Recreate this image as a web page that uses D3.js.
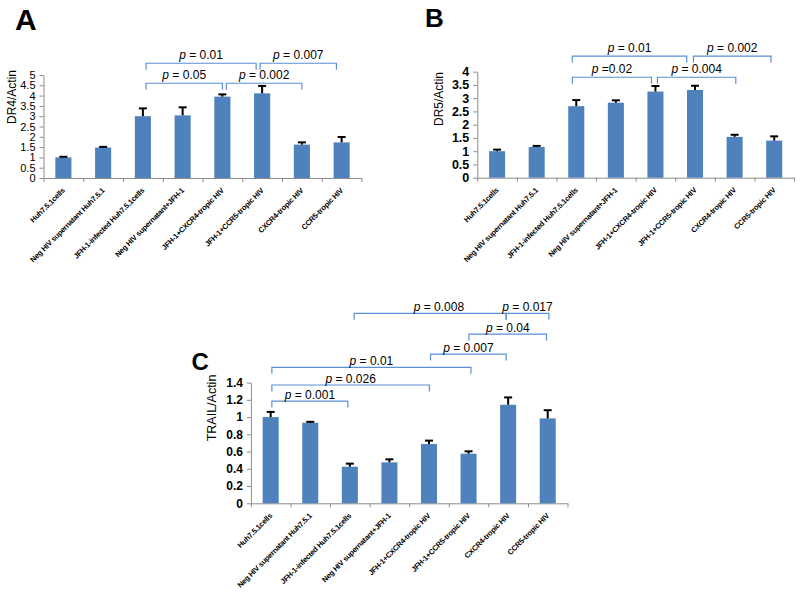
<!DOCTYPE html>
<html><head><meta charset="utf-8">
<script src="https://cdn.jsdelivr.net/npm/d3@7/dist/d3.min.js"></script>
<style>body{margin:0;background:#fff}svg{display:block;font-family:"Liberation Sans",Arial,sans-serif}</style>
</head><body><svg id="chart" width="800" height="594"></svg>
<script>
// ---------- data ----------
const categories = ["Huh7.5.1cells","Neg HIV supernatant Huh7.5.1","JFH-1-infected Huh7.5.1cells","Neg HIV supernatant+JFH-1","JFH-1+CXCR4-tropic HIV","JFH-1+CCR5-tropic HIV","CXCR4-tropic HIV","CCR5-tropic HIV"];

const dr4Values = [1.0, 1.48, 3.0, 3.04, 3.95, 4.11, 1.62, 1.73];
const dr4Errors = [0.03, 0.03, 0.38, 0.39, 0.11, 0.36, 0.11, 0.26];
const dr4Ticks = [0, 0.5, 1, 1.5, 2, 2.5, 3, 3.5, 4, 4.5, 5];
const dr4TickLabels = ["0","0.5","1","1.5","2","2.5","3","3.5","4","4.5","5"];
const dr4Brackets = [
  {from: 2.08, to: 4.85, level: 5.57, p: " = 0.01"},
  {from: 4.95, to: 6.87, level: 5.57, p: " = 0.007"},
  {from: 2.08, to: 4.0,  level: 4.6,  p: " = 0.05"},
  {from: 4.1,  to: 6.0,  level: 4.6,  p: " = 0.002"}
];

const dr5Values = [1.0, 1.16, 2.7, 2.83, 3.25, 3.31, 1.54, 1.4];
const dr5Errors = [0.06, 0.04, 0.23, 0.09, 0.21, 0.16, 0.08, 0.16];
const dr5Ticks = [0, 0.5, 1, 1.5, 2, 2.5, 3, 3.5, 4];
const dr5TickLabels = ["0","0.5","1","1.5","2","2.5","3","3.5","4"];
const dr5Brackets = [
  {from: 1.9,  to: 4.79, level: 4.59, p: " = 0.01"},
  {from: 4.96, to: 6.92, level: 4.59, p: " = 0.002"},
  {from: 1.9,  to: 3.9,  level: 3.79, p: " =0.02"},
  {from: 4.05, to: 6.03, level: 3.79, p: " = 0.004"}
];

const trailValues = [1.0, 0.935, 0.424, 0.475, 0.687, 0.575, 1.143, 0.985];
const trailErrors = [0.06, 0.01, 0.036, 0.035, 0.04, 0.028, 0.085, 0.095];
const trailTicks = [0, 0.2, 0.4, 0.6, 0.8, 1, 1.2, 1.4];
const trailTickLabels = ["0","0.2","0.4","0.6","0.8","1","1.2","1.4"];
const trailBrackets = [
  {from: 0.03, to: 1.95, level: 1.186, p: " = 0.001"},
  {from: 0.03, to: 4.01, level: 1.372, p: " = 0.026"},
  {from: 0.03, to: 5.06, level: 1.577, p: " = 0.01"},
  {from: 4.04, to: 5.95, level: 1.731, p: " = 0.007"},
  {from: 5.01, to: 6.97, level: 1.963, p: " = 0.04"},
  {from: 2.11, to: 5.95, level: 2.203, p: " = 0.008", labelAt: 4.25},
  {from: 5.95, to: 7.03, level: 2.203, p: " = 0.017"}
];

// ---------- drawing ----------
const svg = d3.select("#chart");
svg.append("rect").attr("width", 800).attr("height", 594).attr("fill", "#fff");

const BAR = "#4F81BD", AXIS = "#8c8c8c", BRACKET = "#5b8fd6";

function panel(o) {
  const g = svg.append("g");
  const x = d3.scaleBand().domain(categories).range([o.x0, o.x1]).paddingInner(0.595).paddingOuter(0.2975);
  const xi = d3.scaleLinear().domain([-0.5, categories.length - 0.5]).range([o.x0, o.x1]);
  const y = d3.scaleLinear().domain([0, o.max]).range([o.y0, o.yTop]);
  const bw = x.bandwidth();

  // y axis
  const ya = g.append("g").attr("transform", `translate(${o.x0},0)`)
    .call(d3.axisLeft(y).tickValues(o.ticks).tickFormat((d, i) => o.tickLabels[i]).tickSize(4).tickSizeOuter(0).tickPadding(4));
  ya.select(".domain").attr("stroke", AXIS);
  ya.selectAll(".tick line").attr("stroke", AXIS);
  ya.selectAll(".tick text").attr("fill", "#000").attr("font-size", o.tickFont)
    .attr("font-weight", o.tickBold ? "bold" : "normal").attr("font-family", '"Liberation Sans",Arial,sans-serif');

  // x axis
  const xa = g.append("g").attr("transform", `translate(0,${o.y0})`)
    .call(d3.axisBottom(xi).tickValues(d3.range(-0.5, categories.length, 1)).tickFormat("").tickSize(4).tickSizeOuter(0));
  xa.select(".domain").attr("stroke", AXIS);
  xa.selectAll(".tick line").attr("stroke", AXIS);

  // bars
  g.selectAll("rect.bar").data(o.values).join("rect").attr("class", "bar")
    .attr("x", (d, i) => x(categories[i])).attr("y", d => y(d))
    .attr("width", bw).attr("height", d => o.y0 - y(d)).attr("fill", BAR);

  // error bars
  const eb = g.selectAll("g.err").data(o.values).join("g").attr("class", "err");
  eb.append("line")
    .attr("x1", (d, i) => x(categories[i]) + bw / 2).attr("x2", (d, i) => x(categories[i]) + bw / 2)
    .attr("y1", d => y(d)).attr("y2", (d, i) => y(d + o.errors[i]))
    .attr("stroke", "#000").attr("stroke-width", 2);
  eb.append("line")
    .attr("x1", (d, i) => x(categories[i]) + bw / 2 - 4).attr("x2", (d, i) => x(categories[i]) + bw / 2 + 4)
    .attr("y1", (d, i) => y(d + o.errors[i])).attr("y2", (d, i) => y(d + o.errors[i]))
    .attr("stroke", "#000").attr("stroke-width", 2);

  // category labels
  g.selectAll("text.cat").data(categories).join("text").attr("class", "cat")
    .attr("transform", d => `translate(${x(d) + bw / 2 + 2},${o.y0 + 13}) rotate(-45)`)
    .attr("text-anchor", "end").attr("font-size", 7.5).attr("font-weight", "bold")
    .attr("letter-spacing", -0.2).attr("fill", "#000").text(d => d);

  // brackets
  const tick = 6.5;
  g.selectAll("path.br").data(o.brackets).join("path").attr("class", "br")
    .attr("d", b => `M${xi(b.from)},${y(b.level) + tick}V${y(b.level)}H${xi(b.to)}V${y(b.level) + tick}`)
    .attr("fill", "none").attr("stroke", BRACKET).attr("stroke-width", 1.2);
  const bt = g.selectAll("text.pl").data(o.brackets).join("text").attr("class", "pl")
    .attr("x", b => xi(b.labelAt !== undefined ? b.labelAt : (b.from + b.to) / 2))
    .attr("y", b => y(b.level) - o.labelGap)
    .attr("text-anchor", "middle").attr("font-size", 12).attr("fill", "#000");
  bt.append("tspan").attr("font-style", "italic").text("p");
  bt.append("tspan").text(b => b.p);

  // y title
  g.append("text").attr("transform", `translate(${o.titleX},${o.titleY}) rotate(-90)`)
    .attr("text-anchor", "middle").attr("dy", "0.35em").attr("font-size", o.titleFont).attr("fill", "#000").text(o.title);

  // panel letter
  g.append("text").attr("x", o.letterX).attr("y", o.letterY).attr("font-size", o.letterFont)
    .attr("font-weight", "bold").attr("fill", "#000").text(o.letter);
}

panel({x0: 43.5, x1: 361.5, y0: 178, yTop: 75, max: 5, values: dr4Values, errors: dr4Errors,
  ticks: dr4Ticks, tickLabels: dr4TickLabels, tickFont: 11, tickBold: false, brackets: dr4Brackets, labelGap: 4,
  title: "DR4/Actin", titleX: 12, titleY: 97, titleFont: 12, letter: "A", letterX: 15, letterY: 30, letterFont: 30});

panel({x0: 477.3, x1: 794, y0: 177.7, yTop: 71.7, max: 4, values: dr5Values, errors: dr5Errors,
  ticks: dr5Ticks, tickLabels: dr5TickLabels, tickFont: 12.5, tickBold: true, brackets: dr5Brackets, labelGap: 4,
  title: "DR5/Actin", titleX: 438.3, titleY: 99, titleFont: 12, letter: "B", letterX: 425, letterY: 27, letterFont: 26});

panel({x0: 250.9, x1: 567.5, y0: 503.3, yTop: 382.6, max: 1.4, values: trailValues, errors: trailErrors,
  ticks: trailTicks, tickLabels: trailTickLabels, tickFont: 12, tickBold: true, brackets: trailBrackets, labelGap: 2,
  title: "TRAIL/Actin", titleX: 211.7, titleY: 408, titleFont: 12.5, letter: "C", letterX: 191.5, letterY: 370, letterFont: 24});
</script></body></html>
